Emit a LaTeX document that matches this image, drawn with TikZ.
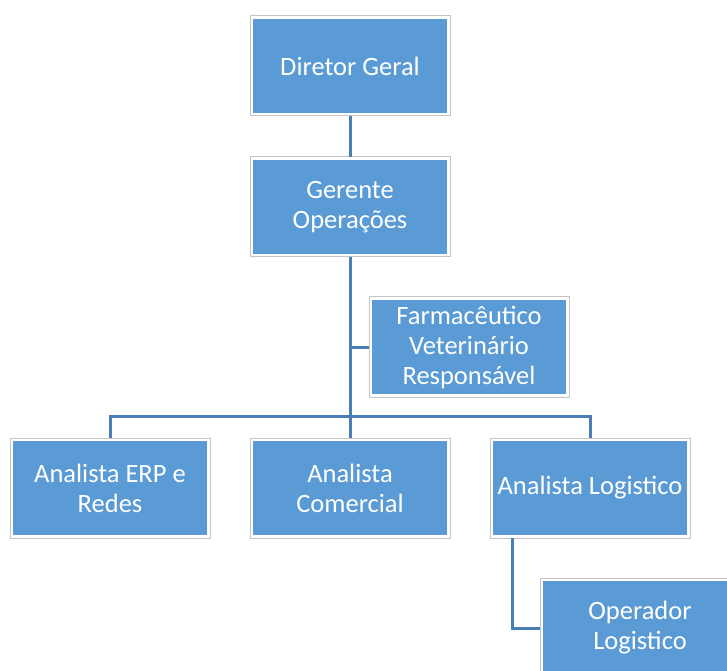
\documentclass[tikz,border=0pt]{standalone}
\usepackage{fontspec}
\setmainfont{Carlito}
\definecolor{boxblue}{HTML}{5B9BD5}
\definecolor{lineblue}{HTML}{4A7FB5}
\definecolor{edgegray}{HTML}{C4C4C4}
\begin{document}
\begin{tikzpicture}[x=1pt,y=1pt,
  orgbox/.style={rectangle, minimum width=197pt, minimum height=97pt, inner sep=2pt,
    fill=boxblue, draw=white, line width=3pt, text=white, align=center,
    font=\fontsize{26.5}{30}\selectfont},
  frame/.style={draw=edgegray, line width=1pt},
  link/.style={draw=lineblue, line width=3pt}]
\useasboundingbox (0,0) rectangle (727,670);
\clip (0,0) rectangle (727,670);
\node[orgbox] (dir) at (350,604) {Diretor Geral};
\node[orgbox] (ger) at (350,463) {Gerente\\Operações};
\node[orgbox] (farm) at (469,323) {Farmacêutico\\Veterinário\\Responsável};
\node[orgbox] (erp) at (110,182) {Analista ERP e\\Redes};
\node[orgbox] (com) at (350,182) {Analista\\Comercial};
\node[orgbox] (log) at (590,182) {Analista Logistico};
\node[orgbox] (op) at (640,42) {Operador\\Logistico};
\foreach \n in {dir,ger,farm,erp,com,log,op}
  \draw[frame] (\n.south west) rectangle (\n.north east);
\coordinate (bus) at (350,254);
\coordinate (opstart) at ([xshift=22pt]log.south west);
\path[link] (dir.south) -- (ger.north);
\path[link] (ger.south) -- (com.north);
\path[link] (farm.west) -- (farm.west -| ger.south);
\path[link] (erp.north) |- (bus) -| (log.north);
\path[link] (opstart) |- (op.west);
\end{tikzpicture}
\end{document}
